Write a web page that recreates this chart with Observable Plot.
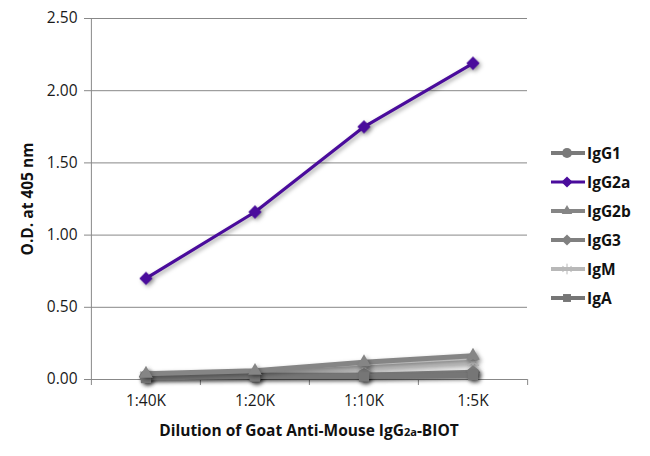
<!DOCTYPE html>
<html>
<head>
<meta charset="utf-8">
<script src="https://cdn.jsdelivr.net/npm/d3@7"></script>
<script src="https://cdn.jsdelivr.net/npm/@observablehq/plot@0.6"></script>
<style>
  body { margin: 0; background: #fff; }
  #wrap { position: relative; width: 650px; height: 456px; font-family: "Open Sans", sans-serif; }
  #legend { position: absolute; left: 550px; top: 138px; }
  .row { display: flex; align-items: center; height: 29px; font-weight: bold; font-size: 15.5px; color: #111; }
  .row svg { margin-right: 1px; }
</style>
</head>
<body>
<div id="wrap"><div id="legend"></div></div>
<script>
const categories = ["1:40K", "1:20K", "1:10K", "1:5K"];
const seriesNames = ["IgG1", "IgG2a", "IgG2b", "IgG3", "IgM", "IgA"];
const IgG1 = [0.02, 0.02, 0.03, 0.04];
const IgG2a = [0.70, 1.16, 1.75, 2.19];
const IgG2b = [0.04, 0.06, 0.12, 0.165];
const IgG3 = [0.02, 0.03, 0.03, 0.05];
const IgM = [0.03, 0.04, 0.08, 0.12];
const IgA = [0.01, 0.02, 0.02, 0.03];
const yTicks = [0, 0.5, 1, 1.5, 2, 2.5];
const colors = ["#7a7a7a", "#4a0c9c", "#858585", "#808080", "#b8b8b8", "#767676"];
const symbols = ["circle", "diamond2", "triangle2", "diamond2", "asterisk", "square2"];
const widths = [5, 3.2, 5, 5, 5, 5];

const seriesValues = {IgG1, IgG2a, IgG2b, IgG3, IgM, IgA};
const drawOrder = ["IgM", "IgG3", "IgG1", "IgA", "IgG2b", "IgG2a"];

const W = 650, H = 456, mL = 90, mR = 123, mT = 18, mB = 77;
const bw = (W - mL - mR) / categories.length;

const marks = [
  Plot.ruleY(yTicks.slice(1), {y: d => d, stroke: "#888", strokeWidth: 1, strokeOpacity: 1}),
  Plot.axisY({ticks: yTicks, tickFormat: d3.format(".2f"), tickSize: 6, tickPadding: 7,
    stroke: "#888", strokeOpacity: 1, label: "O.D. at 405 nm", labelAnchor: "center", labelOffset: 69, labelArrow: "none",
    fontSize: 15.5, fill: "#1a1a1a"}),
  Plot.ruleX([categories[0]], {x: d => d, dx: -bw / 2, stroke: "#888"}),
  Plot.ruleY([0], {stroke: "#888"}),
  Plot.axisX({tickSize: 6, tickFormat: () => "", dx: -bw / 2, stroke: "#888", strokeOpacity: 1, label: null}),
  Plot.axisX([categories[categories.length - 1]], {tickSize: 6, tickFormat: () => "", dx: bw / 2, stroke: "#888", strokeOpacity: 1, label: null}),
  Plot.axisX({tickSize: 0, tickPadding: 15, fontSize: 15.5, fill: "#1a1a1a",
    label: "Dilution of Goat Anti-Mouse IgG2a-BIOT", labelAnchor: "center", labelOffset: 56, labelArrow: "none"})
];
for (const name of drawOrder) {
  const i = seriesNames.indexOf(name);
  const data = categories.map((c, j) => ({c, v: seriesValues[name][j]}));
  marks.push(Plot.line(data, {x: "c", y: "v", stroke: colors[i], strokeWidth: widths[i]}));
  marks.push(Plot.dot(data, {x: "c", y: "v", symbol: () => symbols[i], r: name === "IgG2a" ? 6 : 6.5,
    fill: colors[i], stroke: symbols[i] === "asterisk" ? colors[i] : "none", strokeWidth: 1.5}));
}

const chart = Plot.plot({
  width: W, height: H,
  marginLeft: mL, marginRight: mR, marginTop: mT, marginBottom: mB,
  style: {fontFamily: "Open Sans, sans-serif", fontSize: "15.5px", color: "#1a1a1a", background: "white"},
  x: {type: "band", domain: categories, padding: 0},
  y: {domain: [0, 2.5]},
  symbol: {type: "identity"},
  marks
});
d3.select(chart).selectAll("g[aria-label='y-axis label'] text, g[aria-label='x-axis label'] text")
  .style("font-weight", "bold").style("fill", "#111").style("font-size", "15.5px");
d3.select(chart).selectAll("g[aria-label='x-axis label'] text").each(function () {
  const t = d3.select(this);
  t.text(null);
  t.append("tspan").text("Dilution of Goat Anti-Mouse IgG");
  t.append("tspan").text("2a").style("font-size", "11px");
  t.append("tspan").text("-BIOT");
});
d3.select(chart).selectAll("g[aria-label='line'], g[aria-label='dot']")
  .style("filter", "drop-shadow(2px 2px 2px rgba(0,0,0,0.35))");
document.getElementById("wrap").prepend(chart);
chart.style.position = "absolute"; chart.style.left = "0"; chart.style.top = "0";

const legend = d3.select("#legend");
const symMap = {circle: d3.symbolCircle, diamond2: d3.symbolDiamond2, triangle2: d3.symbolTriangle2,
  asterisk: d3.symbolAsterisk, square2: d3.symbolSquare2};
seriesNames.forEach((name, i) => {
  const row = legend.append("div").attr("class", "row");
  const s = row.append("svg").attr("width", 36).attr("height", 14);
  s.append("line").attr("x1", 1).attr("x2", 35).attr("y1", 7).attr("y2", 7)
    .attr("stroke", colors[i]).attr("stroke-width", widths[i] === 5 ? 4 : 3);
  s.append("path").attr("transform", "translate(17,7)")
    .attr("d", d3.symbol(symMap[symbols[i]], 80)())
    .attr("fill", colors[i]).attr("stroke", symbols[i] === "asterisk" ? colors[i] : "none");
  row.append("span").text(name);
});
</script>
</body>
</html>
